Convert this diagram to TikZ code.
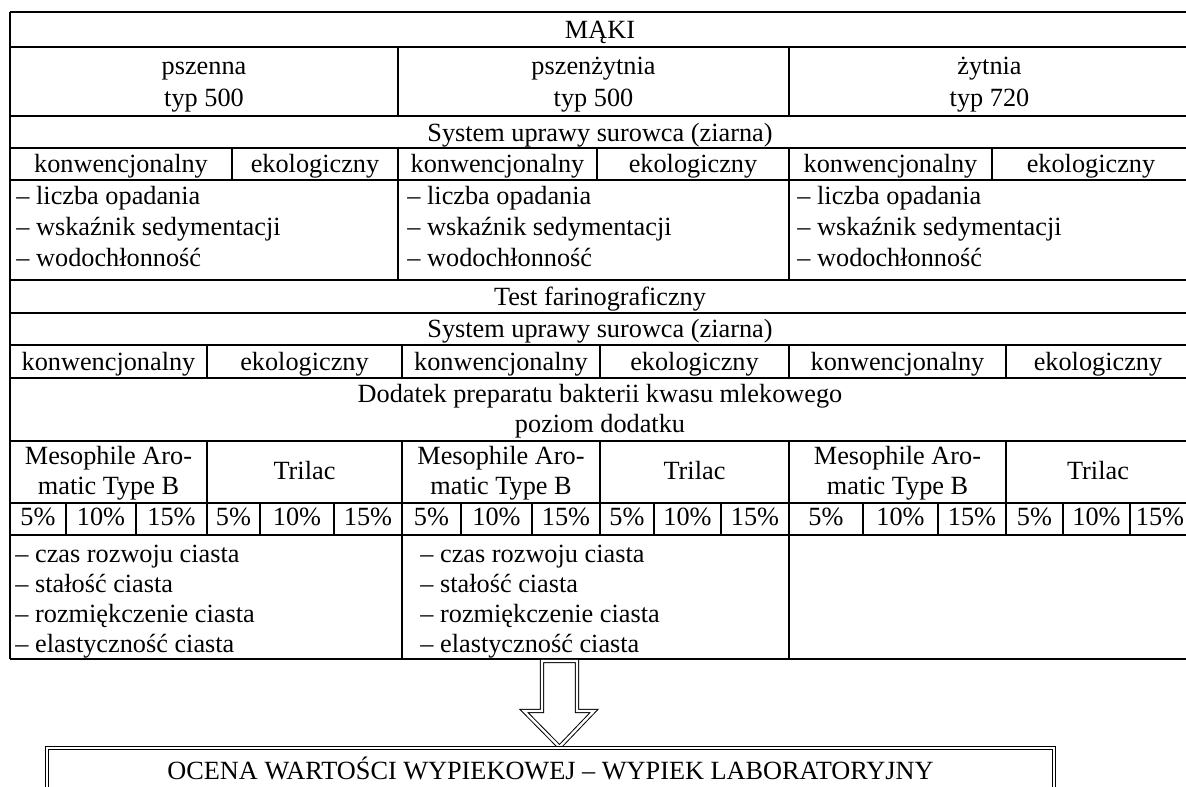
\documentclass[tikz,border=0pt]{standalone}
\usepackage{fontspec}
\setmainfont{Liberation Serif}
\usetikzlibrary{positioning, calc}

\tikzset{
  rule/.style={line width=0.65pt},
  ln/.style={font=\fontsize{12}{13}\selectfont, inner sep=0pt, anchor=base},
  item/.style={font=\fontsize{12}{13}\selectfont, inner sep=0pt, anchor=base west},
  dbl/.style={double, double distance=1.1pt, line width=0.45pt, line join=miter},
}

\begin{document}
\begin{tikzpicture}[x=0.4566pt, y=-0.4566pt]
  \useasboundingbox (0,0) rectangle (1186,787);
  % horizontal rules of the table
  \foreach \y in {12,47,116,148,180,280,313,345,378,441,503,535,659}
    \draw[rule] (10,\y) -- (1190,\y);
  \draw[rule] (10,12) -- (10,659);
  \draw[rule] (1190,12) -- (1190,659);
  % vertical rules, row by row
  \foreach \x in {398,789} \draw[rule] (\x,47) -- (\x,116);
  \foreach \x in {232,398,597,789,992} \draw[rule] (\x,148) -- (\x,180);
  \foreach \x in {398,789} \draw[rule] (\x,180) -- (\x,280);
  \foreach \x in {207,402,600,789,1006} {
    \draw[rule] (\x,345) -- (\x,378);
    \draw[rule] (\x,441) -- (\x,503);
  }
  \foreach \x in {66,136,207,260,334,402,461,532,600,654,721,789,863,938,1006,1063,1130}
    \draw[rule] (\x,503) -- (\x,535);
  \foreach \x in {402,789} \draw[rule] (\x,535) -- (\x,659);

  % headings
  \node[ln] (maki) at (600,39) {MĄKI};
  \foreach \x/\s/\t [count=\i] in {204/pszenna/typ 500, 593.5/pszenżytnia/typ 500, 989.5/żytnia/typ 720} {
    \node[ln] (mk\i) at (\x,74.5) {\s};
    \node[ln] (ty\i) at (\x,107) {\t};
  }
  \node[ln] (sys1) at (600,141.5) {System uprawy surowca (ziarna)};
  \foreach \a/\b/\t [count=\i] in {10/232/konwencjonalny, 232/398/ekologiczny,
      398/597/konwencjonalny, 597/789/ekologiczny, 789/992/konwencjonalny, 992/1190/ekologiczny}
    \node[ln] (sa\i) at ({(\a+\b)/2},173) {\t};
  \foreach \x [count=\g] in {16,407,797}
    \foreach \t [count=\i] in {liczba opadania, wskaźnik sedymentacji, wodochłonność}
      \node[item] (oz\g\i) at (\x,{205+31*(\i-1)}) {– \t};

  \node[ln] (test) at (600,305.5) {Test farinograficzny};
  \node[ln] (sys2) at (600,338) {System uprawy surowca (ziarna)};
  \foreach \a/\b/\t [count=\i] in {10/207/konwencjonalny, 207/402/ekologiczny,
      402/600/konwencjonalny, 600/789/ekologiczny, 789/1006/konwencjonalny, 1006/1190/ekologiczny}
    \node[ln] (sb\i) at ({(\a+\b)/2},370.5) {\t};
  \node[ln] (dod) at (600,403) {Dodatek preparatu bakterii kwasu mlekowego};
  \node[ln] (poz) at (600,433) {poziom dodatku};
  \foreach \a/\b [count=\i] in {10/207, 402/600, 789/1006} {
    \node[ln] (mes\i) at ({(\a+\b)/2},465) {Mesophile Aro-};
    \node[ln] (mat\i) at ({(\a+\b)/2},495) {matic Type B};
  }
  \foreach \a/\b [count=\i] in {207/402, 600/789, 1006/1190}
    \node[ln] (tri\i) at ({(\a+\b)/2},480) {Trilac};
  \foreach \a/\b/\t [count=\i] in {10/66/5\%, 66/136/10\%, 136/207/15\%, 207/260/5\%, 260/334/10\%, 334/402/15\%,
      402/461/5\%, 461/532/10\%, 532/600/15\%, 600/654/5\%, 654/721/10\%, 721/789/15\%,
      789/863/5\%, 863/938/10\%, 938/1006/15\%, 1006/1063/5\%, 1063/1130/10\%, 1130/1190/15\%}
    \node[ln] (pc\i) at ({(\a+\b)/2},526) {\t};
  \foreach \x [count=\g] in {15,420}
    \foreach \t [count=\i] in {czas rozwoju ciasta, stałość ciasta, rozmiękczenie ciasta, elastyczność ciasta}
      \node[item] (fa\g\i) at (\x,{563+29.7*(\i-1)}) {– \t};

  % hollow arrow down to the result box
  \coordinate (tip) at (559.5,747);
  \draw[dbl] (542,661) -- (542,711) -- (524,711) -- (tip) -- (594,711) -- (577,711) -- (577,661) -- cycle;
  \draw[dbl] (47,748) rectangle (1054,800);
  \node[ln] (ocena) at (550.5,780) {OCENA WARTOŚCI WYPIEKOWEJ – WYPIEK LABORATORYJNY};
\end{tikzpicture}
\end{document}
